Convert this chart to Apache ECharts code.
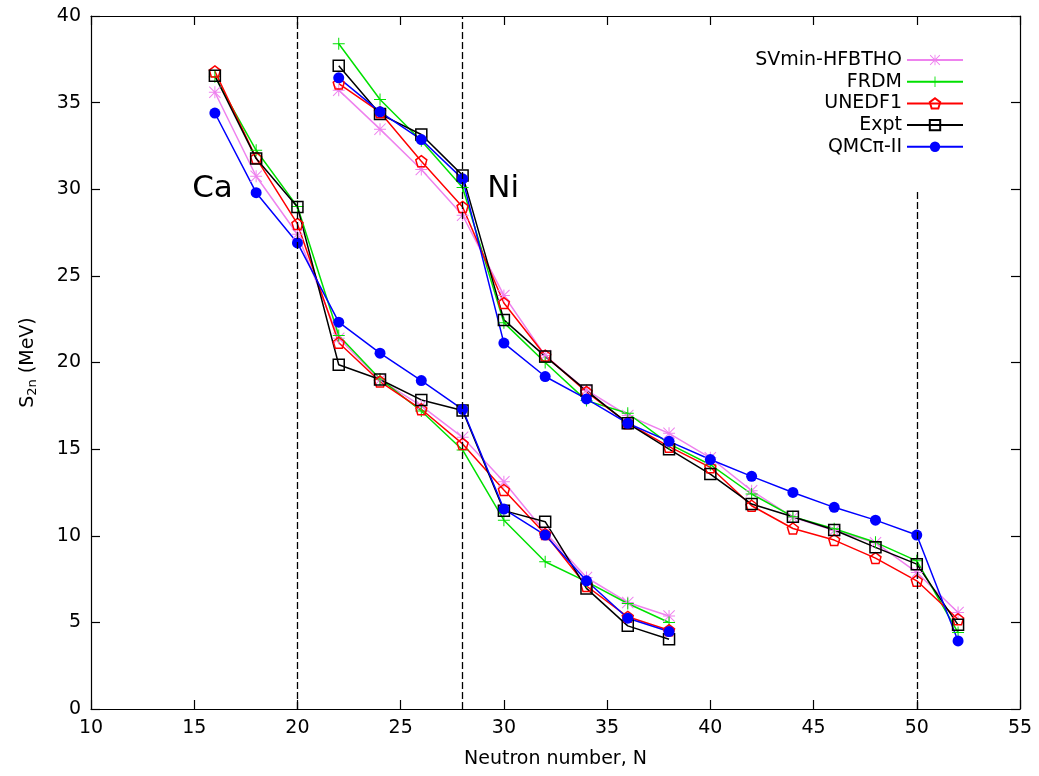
<!DOCTYPE html>
<html><head><meta charset="utf-8">
<script src="https://cdn.jsdelivr.net/npm/echarts@6/dist/echarts.min.js"></script>
<style>html,body{margin:0;padding:0;background:#fff}#c{width:1039px;height:776px}</style>
</head><body><div id="c"></div>
<script>
// ---- data ----
const caN = [16,18,20,22,24,26,28,30,32,34,36,38];
const niN = [22,24,26,28,30,32,34,36,38,40,42,44,46,48,50,52];

const svCa   = [35.6, 30.75, 27.4, 21.4, 19.0, 17.5, 15.68, 13.12, 10.2, 7.59, 6.15, 5.37];
const frdmCa = [36.5, 32.25, 29.0, 21.56, 19.05, 17.2, 14.95, 10.9, 8.5, 7.35, 6.09, 4.99];
const unCa   = [36.8, 31.8, 28.0, 21.14, 18.9, 17.3, 15.3, 12.64, 10.1, 7.1, 5.32, 4.55];
const exCa   = [36.55, 31.77, 28.98, 19.87, 19.02, 17.84, 17.23, 11.45, 10.81, 6.96, 4.8, 4.03];
const qmcCa  = [34.4, 29.8, 26.9, 22.33, 20.54, 18.96, 17.3, 11.54, 10.04, 7.4, 5.24, 4.47];

const svNi   = [35.72, 33.47, 31.14, 28.5, 23.87, 20.4, 18.4, 16.94, 15.91, 14.5, 12.6, 11.06, 10.3, 9.6, 7.88, 5.57];
const frdmNi = [38.4, 35.18, 32.8, 30.1, 22.3, 20.0, 17.8, 17.07, 15.3, 14.1, 12.41, 11.1, 10.4, 9.62, 8.55, 4.41];
const unNi   = [36.1, 34.45, 31.62, 28.98, 23.43, 20.4, 18.3, 16.5, 15.14, 13.95, 11.73, 10.42, 9.75, 8.71, 7.4, 5.18];
const exNi   = [37.13, 34.34, 33.16, 30.8, 22.46, 20.35, 18.38, 16.49, 15.0, 13.56, 11.83, 11.1, 10.33, 9.33, 8.36, 4.86];
const qmcNi  = [36.43, 34.47, 32.87, 30.6, 21.12, 19.19, 17.9, 16.49, 15.45, 14.4, 13.43, 12.5, 11.64, 10.9, 10.04, 3.93];

const seriesNames = ['SVmin-HFBTHO', 'FRDM', 'UNEDF1', 'Expt', 'QMCπ-II'];
const xTicks = [10, 55, 5];
const yTicks = [0, 40, 5];
const shellLines = [[20, 0, 40], [28, 0, 40], [50, 0, 30]];
const labels = [['Ca', 14.9, 30], ['Ni', 29.2, 30]];

// ---- styles ----
const ASTER = 'path://M11 0L13 0L13 24L11 24Z M0 11L24 11L24 13L0 13Z M0 1.4L1.4 0L24 22.6L22.6 24Z M22.6 0L24 1.4L1.4 24L0 22.6Z';
const PLUS = 'path://M11 0L13 0L13 24L11 24Z M0 11L24 11L24 13L0 13Z';
const PENT = 'path://M12 1L23 9L19 22L5 22L1 9Z';

const styles = {
  'SVmin-HFBTHO': {color:'#ee82ee', symbol: ASTER, size: 12, fill:'#ee82ee', border:0},
  'FRDM':         {color:'#00e000', symbol: PLUS, size: 12, fill:'#00e000', border:0},
  'UNEDF1':       {color:'#ff0000', symbol: PENT, size: 11, fill:'rgba(255,255,255,0)', border:1.5},
  'Expt':         {color:'#000000', symbol: 'rect', size: 11, fill:'rgba(255,255,255,0)', border:1.5},
  'QMCπ-II':      {color:'#0000ff', symbol: 'circle', size: 11, fill:'#0000ff', border:0}
};

const zip = (xs, ys) => xs.map((x, i) => [x, ys[i]]);
const chainData = {
  'SVmin-HFBTHO': [svCa, svNi],
  'FRDM': [frdmCa, frdmNi],
  'UNEDF1': [unCa, unNi],
  'Expt': [exCa, exNi],
  'QMCπ-II': [qmcCa, qmcNi]
};

const series = [];
seriesNames.forEach(name => {
  const st = styles[name];
  [[caN, chainData[name][0]], [niN, chainData[name][1]]].forEach(([xs, ys]) => {
    series.push({
      name, type: 'line', data: zip(xs, ys),
      symbol: st.symbol, symbolSize: st.size, showAllSymbol: true,
      lineStyle: {color: st.color, width: 1.5},
      itemStyle: {color: st.fill, borderColor: st.color, borderWidth: st.border},
      emphasis: {disabled: true}, animation: false, z: 3
    });
  });
});

// dashed shell lines + labels
series.push({
  type: 'line', data: [], silent: true, animation: false,
  markLine: {
    silent: true, symbol: ['none', 'none'], animation: false,
    label: {show: false},
    lineStyle: {color: '#000', type: [7, 3], width: 1.3},
    data: shellLines.map(([x, y0, y1]) => [{coord: [x, y0]}, {coord: [x, y1]}])
  },
  markPoint: {
    silent: true, animation: false, symbol: 'circle', symbolSize: 0,
    label: {show: true, position: 'right', distance: 0, color: '#000',
            fontSize: 31, fontFamily: 'DejaVu Sans', formatter: p => p.name},
    data: labels.map(([t, x, y]) => ({name: t, coord: [x, y]}))
  }
});

const font = 'DejaVu Sans';
const axisCommon = {
  axisLine: {show: true, onZero: false, lineStyle: {color: '#000', width: 1.2}},
  axisTick: {show: true, inside: true, length: 9, lineStyle: {color: '#000', width: 1.2}},
  splitLine: {show: false}
};

const chart = echarts.init(document.getElementById('c'), null, {renderer: 'canvas'});
chart.setOption({
  backgroundColor: '#fff',
  animation: false,
  grid: {left: 91, right: 19, top: 16, bottom: 67, containLabel: false},
  legend: {
    data: seriesNames, orient: 'vertical', right: 70, top: 45, align: 'right',
    itemWidth: 56, itemHeight: 13, itemGap: 1.7,
    textStyle: {fontSize: 19, fontFamily: font, color: '#000', lineHeight: 20},
    selectedMode: false
  },
  xAxis: [
    Object.assign({type: 'value', min: xTicks[0], max: xTicks[1], interval: xTicks[2], position: 'bottom',
      name: 'Neutron number, N', nameLocation: 'middle', nameGap: 41,
      nameTextStyle: {fontSize: 19, fontFamily: font, color: '#000'},
      axisLabel: {fontSize: 19, fontFamily: font, color: '#000', margin: 10}}, axisCommon),
    Object.assign({type: 'value', min: xTicks[0], max: xTicks[1], interval: xTicks[2], position: 'top',
      axisLabel: {show: false}}, axisCommon)
  ],
  yAxis: [
    Object.assign({type: 'value', min: yTicks[0], max: yTicks[1], interval: yTicks[2], position: 'left',
      name: 'S{sub|2n} (MeV)', nameLocation: 'middle', nameGap: 52, nameRotate: 90,
      nameTextStyle: {fontSize: 19, fontFamily: font, color: '#000',
        rich: {sub: {fontSize: 13, fontFamily: font, color: '#000', verticalAlign: 'bottom', padding: [8, 0, 0, 0]}}},
      axisLabel: {fontSize: 19, fontFamily: font, color: '#000', margin: 10}}, axisCommon),
    Object.assign({type: 'value', min: yTicks[0], max: yTicks[1], interval: yTicks[2], position: 'right',
      axisLabel: {show: false}}, axisCommon)
  ],
  series
});
</script></body></html>
